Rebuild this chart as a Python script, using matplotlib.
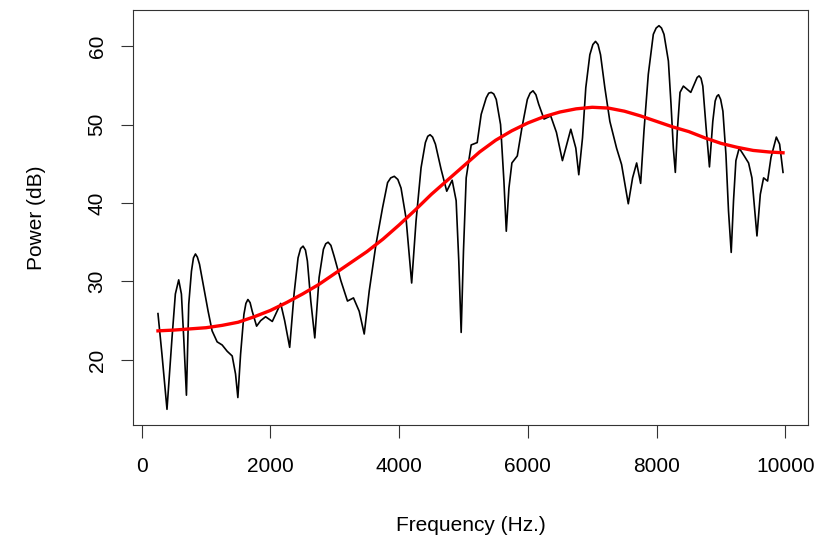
import matplotlib
matplotlib.use("Agg")
import matplotlib.pyplot as plt

plt.rcParams['font.family'] = ['Liberation Sans', 'DejaVu Sans']

# Spectrum (black line)
freq = [254, 316, 394, 472, 524, 576, 618, 654, 696, 732, 774, 805, 836, 866, 899, 966,
        1033, 1095, 1173, 1251, 1329, 1407, 1459, 1495, 1537, 1589, 1620, 1651, 1685,
        1718, 1786, 1849, 1926, 2030, 2160, 2222, 2300, 2368, 2430, 2470, 2508, 2545,
        2575, 2628, 2690, 2757, 2824, 2860, 2897, 2940, 2991, 3095, 3198, 3291, 3380,
        3458, 3536, 3640, 3743, 3821, 3870, 3925, 3980, 4030, 4107, 4195, 4263, 4341,
        4408, 4445, 4481, 4520, 4564, 4652, 4740, 4824, 4886, 4927, 4964, 5000, 5042,
        5120, 5213, 5275, 5353, 5392, 5431, 5470, 5509, 5576, 5628, 5665, 5706, 5752,
        5836, 5908, 5992, 6035, 6080, 6125, 6168, 6251, 6355, 6444, 6537, 6667, 6745,
        6791, 6849, 6900, 6963, 7010, 7051, 7090, 7129, 7196, 7274, 7378, 7456, 7508,
        7560, 7627, 7690, 7752, 7804, 7871, 7949, 7993, 8037, 8076, 8115, 8183, 8224,
        8260, 8291, 8322, 8364, 8416, 8531, 8630, 8660, 8690, 8718, 8769, 8821, 8873,
        8910, 8936, 8962, 8995, 9030, 9077, 9117, 9159, 9195, 9232, 9283, 9361, 9429,
        9481, 9517, 9559, 9611, 9662, 9724, 9777, 9860, 9911, 9964]
power = [25.9, 20.7, 13.7, 22.8, 28.4, 30.2, 28.4, 22.8, 15.5, 27.1, 31.3, 33.0, 33.5,
         33.1, 32.2, 29.2, 26.2, 23.7, 22.3, 21.9, 21.1, 20.5, 18.2, 15.2, 20.7, 25.8,
         27.2, 27.7, 27.3, 26.2, 24.3, 25.0, 25.5, 24.9, 27.2, 25.0, 21.6, 28.4, 33.0,
         34.2, 34.5, 34.0, 32.6, 27.5, 22.8, 30.5, 34.1, 34.8, 35.0, 34.6, 33.2, 30.1,
         27.5, 27.9, 26.2, 23.3, 28.8, 34.7, 39.4, 42.6, 43.2, 43.4, 43.0, 41.9, 38.1,
         29.8, 37.7, 44.5, 47.7, 48.5, 48.7, 48.4, 47.5, 44.3, 41.5, 42.9, 40.3, 32.6,
         23.5, 33.9, 43.2, 47.4, 47.7, 51.3, 53.4, 54.0, 54.1, 53.9, 53.2, 50.0, 42.8,
         36.4, 41.9, 45.1, 46.0, 49.6, 53.2, 54.0, 54.3, 53.8, 52.6, 50.7, 51.1, 49.0,
         45.4, 49.4, 47.0, 43.6, 48.3, 54.7, 58.9, 60.2, 60.6, 60.2, 58.9, 54.7, 50.4,
         47.0, 44.9, 42.4, 39.9, 43.2, 45.1, 42.5, 49.2, 56.4, 61.5, 62.3, 62.6, 62.3,
         61.5, 58.1, 52.6, 47.0, 43.9, 49.2, 54.1, 54.9, 54.1, 56.0, 56.2, 55.9, 54.9,
         49.6, 44.6, 50.4, 53.0, 53.6, 53.8, 53.2, 51.7, 46.2, 39.0, 33.7, 40.3, 45.4,
         47.0, 46.0, 45.1, 43.2, 39.8, 35.8, 41.1, 43.2, 42.8, 45.8, 48.4, 47.5, 43.9]

# Smooth trend (red line)
trend_freq = [254, 500, 750, 1000, 1250, 1500, 1750, 2000, 2250, 2500, 2750, 3000,
              3250, 3500, 3750, 4000, 4250, 4500, 4750, 5000, 5250, 5500, 5750, 6000,
              6250, 6500, 6750, 7000, 7250, 7500, 7750, 8000, 8250, 8500, 8750, 9000,
              9250, 9500, 9750, 9964]
trend_power = [23.7, 23.8, 23.95, 24.1, 24.4, 24.8, 25.5, 26.3, 27.3, 28.4, 29.6, 31.0,
               32.4, 33.8, 35.4, 37.2, 39.1, 41.1, 42.9, 44.7, 46.5, 48.0, 49.2, 50.2,
               51.0, 51.6, 52.0, 52.2, 52.1, 51.7, 51.1, 50.4, 49.7, 49.1, 48.3, 47.6,
               47.1, 46.7, 46.5, 46.4]

xticks = [0, 2000, 4000, 6000, 8000, 10000]
yticks = [20, 30, 40, 50, 60]

fig = plt.figure(figsize=(8.4, 5.4), dpi=100)
ax = fig.add_axes([133/840, 1-425/540, (808-133)/840, (425-10)/540])

ax.plot(freq, power, color='black', lw=1.2, solid_joinstyle='round')
ax.plot(trend_freq, trend_power, color='red', lw=2.4, solid_joinstyle='round')

ax.set_xlim(-134, 10352)
ax.set_ylim(11.7, 64.6)
ax.set_xticks(xticks)
ax.set_yticks(yticks)
ax.set_xticklabels([str(t) for t in xticks])
ax.set_yticklabels([str(t) for t in yticks], rotation=90, va='center')

for s in ax.spines.values():
    s.set_linewidth(0.8)
    s.set_color('#333333')
ax.tick_params(axis='both', direction='out', length=9, width=0.8, colors='#333333',
               labelsize=15, labelcolor='black')
ax.tick_params(axis='x', pad=14)
ax.tick_params(axis='y', pad=10)

ax.set_xlabel('Frequency (Hz.)', fontsize=15, labelpad=29)
ax.set_ylabel('Power (dB)', fontsize=15, labelpad=30)

fig.savefig('out.png', dpi=100)
